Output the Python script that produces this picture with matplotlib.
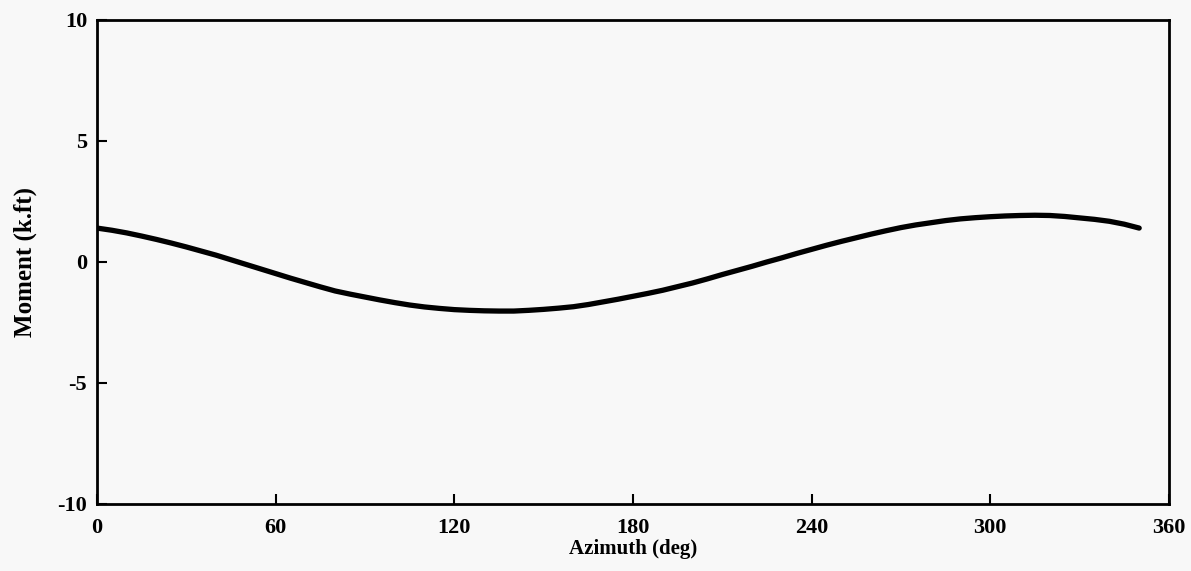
import matplotlib
matplotlib.use("Agg")
import matplotlib.pyplot as plt

# Bending moment versus azimuth angle
azimuth = [0, 5, 10, 15, 20, 25, 30, 35, 40, 45, 50, 55, 60, 65, 70, 75, 80,
           85, 90, 95, 100, 105, 110, 115, 120, 125, 130, 135, 140, 145, 150,
           155, 160, 165, 170, 175, 180, 185, 190, 195, 200, 205, 210, 215,
           220, 225, 230, 235, 240, 245, 250, 255, 260, 265, 270, 275, 280,
           285, 290, 295, 300, 305, 310, 315, 320, 325, 330, 335, 340, 345,
           350]
moment = [1.40, 1.31, 1.20, 1.07, 0.93, 0.78, 0.62, 0.45, 0.28, 0.09,
          -0.10, -0.29, -0.48, -0.67, -0.85, -1.03, -1.20, -1.33, -1.45,
          -1.57, -1.68, -1.78, -1.86, -1.92, -1.97, -2.00, -2.02, -2.03,
          -2.03, -2.00, -1.96, -1.91, -1.85, -1.76, -1.65, -1.54, -1.42,
          -1.30, -1.17, -1.02, -0.87, -0.70, -0.52, -0.35, -0.18, 0.00,
          0.17, 0.35, 0.52, 0.69, 0.85, 1.00, 1.15, 1.29, 1.42, 1.53, 1.62,
          1.71, 1.78, 1.83, 1.87, 1.90, 1.92, 1.93, 1.92, 1.88, 1.82, 1.76,
          1.68, 1.56, 1.40]

x_ticks = [0, 60, 120, 180, 240, 300, 360]
y_ticks = [-10, -5, 0, 5, 10]

bg = "#f8f8f8"
plt.rcParams["font.family"] = ["Liberation Serif", "DejaVu Serif"]
plt.rcParams["font.weight"] = "bold"
plt.rcParams["axes.unicode_minus"] = False

fig = plt.figure(figsize=(11.91, 5.71), dpi=100, facecolor=bg)
ax = fig.add_axes([0.0814, 0.1175, 0.9001, 0.8475], facecolor=bg)

ax.plot(azimuth, moment, color="black", linewidth=3.8,
        solid_capstyle="round", solid_joinstyle="round")

ax.set_xlim(0, 360)
ax.set_ylim(-10, 10)
ax.set_xticks(x_ticks)
ax.set_yticks(y_ticks)
ax.tick_params(direction="in", length=7, width=1.5, labelsize=16, pad=7,
               top=False, right=False)
ax.tick_params(axis="x", pad=10)
for lbl in ax.get_xticklabels() + ax.get_yticklabels():
    lbl.set_fontweight("bold")
for sp in ax.spines.values():
    sp.set_linewidth(2)
    sp.set_color("black")

ax.set_xlabel("Azimuth (deg)", fontsize=15, fontweight="bold", labelpad=1)
ax.set_ylabel("Moment (k.ft)", fontsize=18, fontweight="bold", labelpad=15)

fig.savefig("out.png", dpi=100, facecolor=bg)
